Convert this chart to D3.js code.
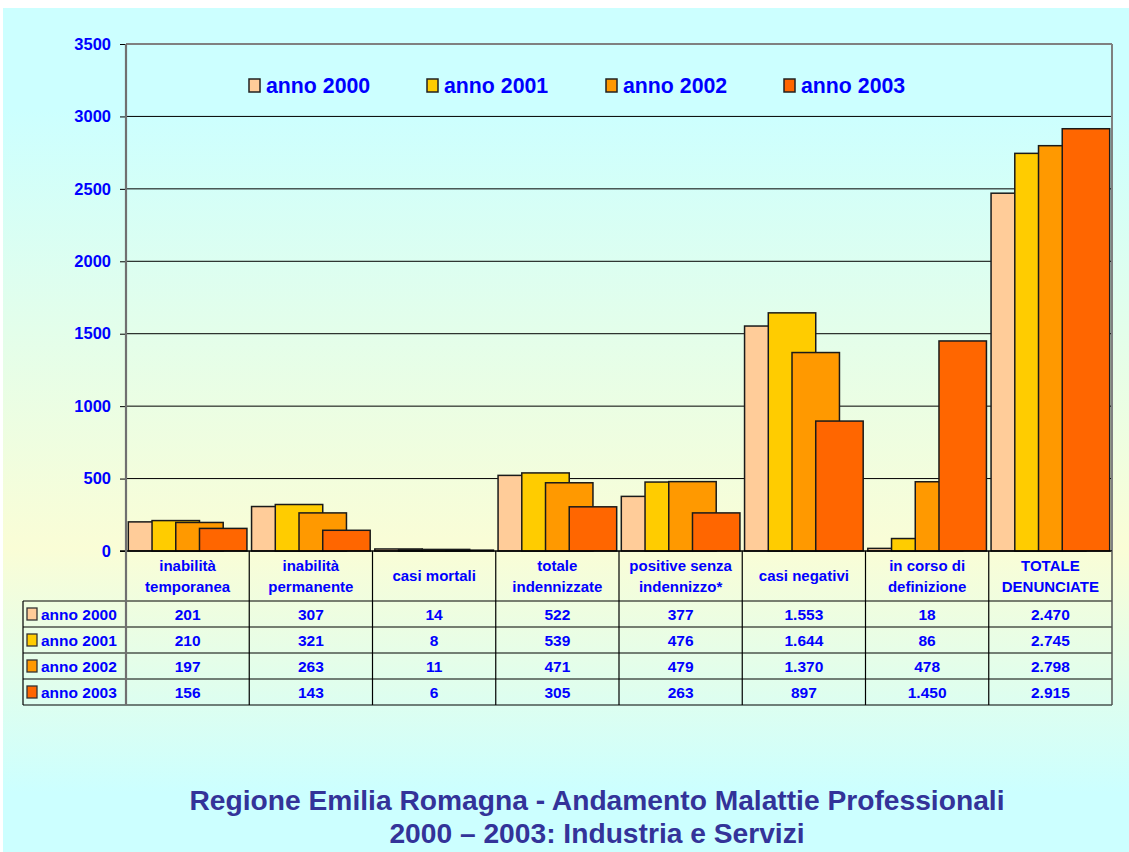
<!DOCTYPE html>
<html><head><meta charset="utf-8">
<script src="https://cdn.jsdelivr.net/npm/d3@7"></script>
<style>body{margin:0;background:#fff;} svg{display:block;}</style>
</head><body><svg id="c" width="1129" height="852"></svg>
<script>
const categories = ["inabilità\ntemporanea","inabilità\npermanente","casi mortali","totale\nindennizzate","positive senza\nindennizzo*","casi negativi","in corso di\ndefinizione","TOTALE\nDENUNCIATE"];
const seriesNames = ["anno 2000","anno 2001","anno 2002","anno 2003"];
const v2000 = [201,307,14,522,377,1553,18,2470];
const v2001 = [210,321,8,539,476,1644,86,2745];
const v2002 = [197,263,11,471,479,1370,478,2798];
const v2003 = [156,143,6,305,263,897,1450,2915];
const seriesColors = ["#ffcc99","#ffcc00","#ff9900","#ff6600"];
const yTicks = [0,500,1000,1500,2000,2500,3000,3500];
const titleLines = ["Regione Emilia Romagna - Andamento Malattie Professionali","2000 – 2003: Industria e Servizi"];

const seriesValues = [v2000,v2001,v2002,v2003];
const svg = d3.select("#c");
const W = 1129, H = 852;
const FONT = "'Liberation Sans', Arial, sans-serif";
const BLUE = "#0000ff";
const fmt = d3.formatLocale({decimal:",", thousands:".", grouping:[3], currency:["",""]}).format(",d");

// background
const defs = svg.append("defs");
const g = defs.append("linearGradient").attr("id","bg").attr("x1",0).attr("y1",0).attr("x2",0).attr("y2",1);
[[0,"#ccffff"],[0.12,"#ccffff"],[0.64,"#fafdd6"],[0.93,"#ccffff"],[1,"#ccffff"]].forEach(s=>g.append("stop").attr("offset",s[0]).attr("stop-color",s[1]));
svg.append("rect").attr("x",0).attr("y",0).attr("width",W).attr("height",H).attr("fill","#fff");
svg.append("rect").attr("x",3).attr("y",8).attr("width",W-3).attr("height",H-8).attr("fill","url(#bg)");

const x0 = 126, x1 = 1112, yTop = 44, yBot = 551;
const x = d3.scaleBand().domain(categories).range([x0,x1]).padding(0);
const y = d3.scaleLinear().domain([0,3500]).range([yBot,yTop]);

// gridlines
const grid = svg.append("g");
grid.selectAll("line").data(yTicks.filter(t=>t>0 && t<3500)).join("line")
  .attr("x1",x0).attr("x2",x1).attr("y1",d=>y(d)).attr("y2",d=>y(d))
  .attr("stroke","#000").attr("stroke-width",1);
svg.append("line").attr("x1",x0).attr("x2",x1).attr("y1",y(3500)).attr("y2",y(3500)).attr("stroke","#808080").attr("stroke-width",2);
svg.append("line").attr("x1",x1).attr("x2",x1).attr("y1",yTop).attr("y2",yBot).attr("stroke","#808080").attr("stroke-width",2);

// bars
const bw = x.bandwidth()*0.385, step = bw/2, off = (x.bandwidth() - (bw + 3*step))/2;
seriesValues.forEach((vals,si)=>{
  svg.append("g").selectAll("rect").data(vals.map((v,i)=>({v,c:categories[i]}))).join("rect")
    .attr("x",d=>x(d.c)+off+si*step).attr("width",bw)
    .attr("y",d=>y(d.v)).attr("height",d=>yBot-y(d.v))
    .attr("fill",seriesColors[si]).attr("stroke","#1a1a1a").attr("stroke-width",1.5);
});

// y axis
const yAxis = d3.axisLeft(y).tickValues(yTicks).tickSize(6).tickPadding(9).tickFormat(d3.format("d"));
const ya = svg.append("g").attr("transform",`translate(${x0},0)`).call(yAxis);
ya.select(".domain").remove();
ya.selectAll(".tick line").attr("stroke","#000");
ya.selectAll(".tick text").attr("fill",BLUE).attr("font-family",FONT).attr("font-weight","bold").attr("font-size",16.5);

// table
const rowTop = 601, rowH = 26, tableLeft = 23;
const tableBottom = rowTop + rowH*4;
svg.append("line").attr("x1",x0-6).attr("x2",x1).attr("y1",yBot).attr("y2",yBot).attr("stroke","#000").attr("stroke-width",1.5);
for(let i=0;i<=4;i++){
  svg.append("line").attr("x1",tableLeft).attr("x2",x1).attr("y1",rowTop+i*rowH).attr("y2",rowTop+i*rowH).attr("stroke","#000").attr("stroke-width",1.2);
}
categories.forEach((c,i)=>{ if(i>0) svg.append("line").attr("x1",x(c)).attr("x2",x(c)).attr("y1",yBot).attr("y2",tableBottom).attr("stroke","#000").attr("stroke-width",1.2); });
svg.append("line").attr("x1",x1).attr("x2",x1).attr("y1",yBot).attr("y2",tableBottom).attr("stroke","#555").attr("stroke-width",1.5);
svg.append("line").attr("x1",tableLeft).attr("x2",tableLeft).attr("y1",rowTop).attr("y2",tableBottom).attr("stroke","#000").attr("stroke-width",1.2);
svg.append("line").attr("x1",x0).attr("x2",x0).attr("y1",yTop).attr("y2",tableBottom).attr("stroke","#707070").attr("stroke-width",2.2);

// header labels
categories.forEach(c=>{
  const lines = c.split("\n");
  const t = svg.append("text").attr("x",x(c)+x.bandwidth()/2).attr("text-anchor","middle")
    .attr("fill",BLUE).attr("font-family",FONT).attr("font-weight","bold").attr("font-size",15);
  const cy = 576;
  lines.forEach((l,i)=>{
    t.append("tspan").attr("x",x(c)+x.bandwidth()/2).attr("y",cy + (i-(lines.length-1)/2)*21 + 5).text(l);
  });
});

// table rows
seriesValues.forEach((vals,si)=>{
  const cy = rowTop + si*rowH + rowH/2;
  svg.append("rect").attr("x",27).attr("y",cy-6).attr("width",10).attr("height",12)
    .attr("fill",seriesColors[si]).attr("stroke","#333").attr("stroke-width",1.3);
  svg.append("text").attr("x",41).attr("y",cy+5.5).attr("fill",BLUE).attr("font-family",FONT).attr("font-weight","bold").attr("font-size",15.5).text(seriesNames[si]);
  svg.append("g").selectAll("text").data(vals.map((v,i)=>({v,c:categories[i]}))).join("text")
    .attr("x",d=>x(d.c)+x.bandwidth()/2).attr("y",cy+5.5).attr("text-anchor","middle")
    .attr("fill",BLUE).attr("font-family",FONT).attr("font-weight","bold").attr("font-size",15.5)
    .text(d=>fmt(d.v));
});

// legend
const legX = [249,427,606,784];
seriesNames.forEach((n,i)=>{
  svg.append("rect").attr("x",legX[i]).attr("y",79).attr("width",11).attr("height",13)
    .attr("fill",seriesColors[i]).attr("stroke","#222").attr("stroke-width",1.5);
  svg.append("text").attr("x",legX[i]+17).attr("y",93).attr("fill",BLUE).attr("font-family",FONT)
    .attr("font-weight","bold").attr("font-size",21.3).text(n);
});

// title
titleLines.forEach((l,i)=>{
  svg.append("text").attr("x",597).attr("y",810+i*33).attr("text-anchor","middle").attr("fill","#333399")
    .attr("font-family",FONT).attr("font-weight","bold").attr("font-size",28.2).text(l);
});
</script></body></html>
